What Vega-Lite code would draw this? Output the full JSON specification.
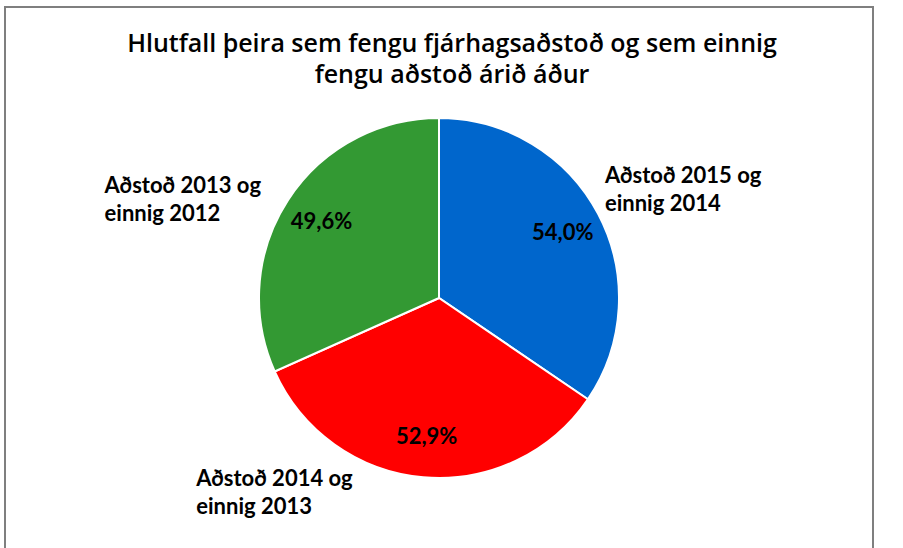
{
  "$schema": "https://vega.github.io/schema/vega-lite/v6.json",
  "autosize": "none",
  "width": 868,
  "height": 582,
  "padding": {"left": 5, "top": 7, "right": 30, "bottom": 0},
  "background": "white",
  "view": {"stroke": "#7f7f7f", "strokeWidth": 2},
  "config": {"view": {"stroke": "#7f7f7f", "strokeWidth": 2}, "style": {"view": {"stroke": "#7f7f7f", "strokeWidth": 2}}},
  "title": {
    "text": ["Hlutfall þeira sem fengu fjárhagsaðstoð og sem einnig", "fengu aðstoð árið áður"],
    "font": "Open Sans",
    "fontSize": 25,
    "fontWeight": 600,
    "lineHeight": 31,
    "color": "black",
    "anchor": "middle",
    "frame": "group",
    "offset": -81,
    "dx": 13
  },
  "data": {
    "values": [
      {"label": "Aðstoð 2015 og\neinnig 2014", "pct": 54.0, "txt": "54,0%"},
      {"label": "Aðstoð 2014 og\neinnig 2013", "pct": 52.9, "txt": "52,9%"},
      {"label": "Aðstoð 2013 og\neinnig 2012", "pct": 49.6, "txt": "49,6%"}
    ]
  },
  "encoding": {
    "theta": {"field": "pct", "type": "quantitative", "stack": true},
    "order": {"field": "label", "sort": "descending"}
  },
  "layer": [
    {
      "mark": {"type": "arc", "outerRadius": 180, "stroke": "white", "strokeWidth": 2},
      "encoding": {
        "color": {
          "field": "label",
          "type": "nominal",
          "scale": {
            "domain": ["Aðstoð 2015 og\neinnig 2014", "Aðstoð 2014 og\neinnig 2013", "Aðstoð 2013 og\neinnig 2012"],
            "range": ["#0066cc", "#ff0000", "#339933"]
          },
          "legend": null
        }
      }
    },
    {
      "mark": {"type": "text", "radius": 140, "font": "Lato", "fontSize": 22, "fontWeight": "bold", "color": "black", "align": "center", "baseline": "middle"},
      "encoding": {"text": {"field": "txt"}}
    },
    {
      "mark": {"type": "text", "radius": 190, "font": "Lato", "fontSize": 22, "fontWeight": "bold", "color": "black", "align": "left", "baseline": "alphabetic", "lineBreak": "\n", "lineHeight": 28, "dx": -2, "dy": -26},
      "encoding": {"text": {"condition": {"test": "indexof(datum.label, '2015') >= 0", "field": "label"}, "value": ""}}
    },
    {
      "mark": {"type": "text", "radius": 190, "font": "Lato", "fontSize": 22, "fontWeight": "bold", "color": "black", "align": "left", "baseline": "alphabetic", "lineBreak": "\n", "lineHeight": 28, "dx": -226, "dy": -1},
      "encoding": {"text": {"condition": {"test": "indexof(datum.label, '2014 og') >= 0", "field": "label"}, "value": ""}}
    },
    {
      "mark": {"type": "text", "radius": 190, "font": "Lato", "fontSize": 22, "fontWeight": "bold", "color": "black", "align": "left", "baseline": "alphabetic", "lineBreak": "\n", "lineHeight": 28, "dx": -175, "dy": -2},
      "encoding": {"text": {"condition": {"test": "indexof(datum.label, '2013 og') >= 0", "field": "label"}, "value": ""}}
    }
  ]
}
